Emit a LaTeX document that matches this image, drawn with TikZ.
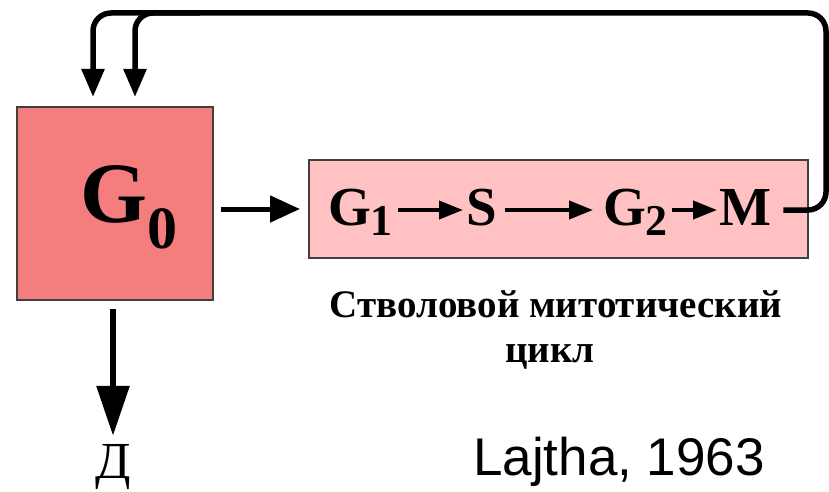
\documentclass[tikz,border=0pt]{standalone}
\usepackage{fontspec}
\setmainfont{Liberation Serif}
\setsansfont{Liberation Sans}
\usetikzlibrary{arrows.meta, positioning}

\definecolor{stemred}{HTML}{F47E7E}
\definecolor{cyclepink}{HTML}{FFC1C1}
\definecolor{edge}{HTML}{404040}

% lowered index digit of a phase name
\newcommand{\phsub}[1]{\raisebox{-10pt}{\fontsize{44}{44}\selectfont #1}}

\begin{document}
\begin{tikzpicture}[x=1pt, y=-1pt,
  box/.style={draw=edge, line width=2pt, rectangle, inner sep=0pt},
  phase/.style={font=\bfseries\fontsize{55}{55}\selectfont, inner sep=0pt,
                text height=30pt, text depth=0pt, anchor=west},
  arrow/.style={-{Triangle[length=30pt, width=26pt]}, line width=5pt},
  down arrow/.style={-{Triangle[length=50pt, width=32pt]}, line width=6pt},
  small arrow/.style={-{Triangle[length=24pt, width=18pt]}, line width=4pt},
  fb/.style={-{Triangle[length=28pt, width=22pt]}, line width=5.5pt,
             rounded corners=18pt},
]
\useasboundingbox (0,0) rectangle (829,492);

\node[box, fill=stemred, minimum width=196pt, minimum height=193pt]
  (g0) at (115,203.5) {};
\node[inner sep=0pt, anchor=base west,
      font=\bfseries\fontsize{86}{86}\selectfont]
  (g0lbl) at (80,222) {G\raisebox{-26pt}{\fontsize{60}{60}\selectfont 0}};

\node[box, fill=cyclepink, minimum width=499pt, minimum height=98pt]
  (cyc) at (558.5,209) {};
\node[phase] (g1) at (328,210) {G\phsub{1}};
\node[phase] (s)  at (466,210) {S};
\node[phase] (g2) at (603,210) {G\phsub{2}};
\node[phase] (m)  at (719,210) {M};

\draw[small arrow, shorten <=5pt, shorten >=3pt] (g1.east) -- (s.west);
\draw[small arrow, shorten <=8pt, shorten >=10pt] (s.east) -- (g2.west);
\draw[small arrow, shorten <=4pt, shorten >=2pt] (g2.east) -- (m.west);

\node[inner sep=0pt, font=\bfseries\fontsize{39}{39}\selectfont,
      anchor=base] (title1) at (556,317) {Стволовой митотический};
\node[inner sep=0pt, font=\bfseries\fontsize{39}{39}\selectfont,
      anchor=base] (title2) at (550,362) {цикл};

\node[inner sep=0pt, font=\fontsize{52}{52}\selectfont, anchor=base]
  (diff) at (113,478) {Д};
\node[inner sep=0pt, font=\sffamily\fontsize{53}{53}\selectfont,
      anchor=base west] (ref) at (473,475) {Lajtha, 1963};

\draw[arrow, shorten <=7pt, shorten >=8pt] (g0.east |- cyc.west) -- (cyc.west);
\draw[down arrow, shorten <=8pt, shorten >=8pt] (g0.south -| diff.north) -- (diff.north);

% feedback loop from M back to G0
\coordinate (fbtop) at (826,13);
\coordinate (fbsplit) at (200,13);
\draw[fb, shorten >=9pt] ([xshift=12pt]m.east) -| (fbtop) -| ([xshift=-22pt]g0.north);
\draw[fb, shorten >=9pt] (fbsplit) -| ([xshift=20pt]g0.north);
\end{tikzpicture}
\end{document}
